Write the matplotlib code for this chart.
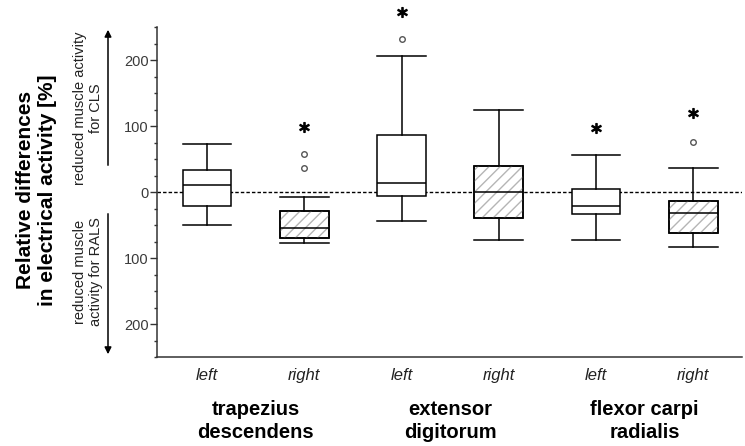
import matplotlib

matplotlib.use("Agg")
import matplotlib.pyplot as plt
from matplotlib.patches import PathPatch, FancyArrowPatch
from matplotlib.ticker import MultipleLocator, FixedLocator

plt.rcParams["font.family"] = ["Liberation Sans", "DejaVu Sans"]

# box statistics (relative difference, %)
sides = ["left", "right", "left", "right", "left", "right"]
muscles = ["trapezius\ndescendens", "extensor\ndigitorum", "flexor carpi\nradialis"]
whislo = [-50, -78, -44, -73, -73, -84]
q1 = [-21, -69, -6, -39, -33, -62]
med = [10, -55, 13, 0, -21, -32]
q3 = [33, -29, 86, 40, 4, -14]
whishi = [72, -7, 206, 124, 56, 36]
fliers = [[], [57, 36], [232], [], [], [76]]
star_y = [None, 99, 273, None, 97, 119]
hatched = [False, True, False, True, False, True]

W, H = 745, 446


def fx(px):
    return px / W


def fy(py):
    return 1 - py / H


fig = plt.figure(figsize=(W / 100, H / 100), dpi=100)
ax = fig.add_axes([fx(157), fy(357), fx(742) - fx(157), fy(27) - fy(357)])

positions = list(range(1, len(sides) + 1))
stats = [
    {"whislo": lo, "q1": a, "med": m, "q3": b, "whishi": hi, "fliers": fl}
    for lo, a, m, b, hi, fl in zip(whislo, q1, med, q3, whishi, fliers)
]
bp = ax.bxp(
    stats, positions=positions, widths=0.5, capwidths=0.5, patch_artist=True,
    showfliers=True,
    boxprops=dict(facecolor="white", edgecolor="black", lw=1.1),
    whiskerprops=dict(color="black", lw=1.1),
    capprops=dict(color="black", lw=1.1),
    medianprops=dict(color="black", lw=1.1, zorder=3),
    flierprops=dict(marker="o", ms=4, mfc="white", mec="#555555", mew=1.0),
)

for box, h in zip(bp["boxes"], hatched):
    if h:
        ax.add_patch(PathPatch(box.get_path(), facecolor="none", edgecolor="#b5b5b5",
                               hatch="///", lw=0, zorder=2.05))
        ax.add_patch(PathPatch(box.get_path(), facecolor="none", edgecolor="black",
                               lw=1.1, zorder=2.1))

for x, s in zip(positions, star_y):
    if s is not None:
        ax.plot(x, s, marker="$*$", ms=7, color="black", clip_on=False, zorder=4)

ax.axhline(0, color="black", lw=1.0, ls=(0, (2.5, 1.5)), zorder=1)

ax.set_xlim(0.486, 6.5)
ax.set_ylim(-250, 250)
ax.yaxis.set_major_locator(FixedLocator([-200, -100, 0, 100, 200]))
ax.set_yticklabels(["200", "100", "0", "100", "200"])
ax.yaxis.set_minor_locator(MultipleLocator(25))
ax.tick_params(axis="y", which="major", length=5, width=1, labelsize=10.5,
               labelcolor="#3a3a3a", color="#333333", pad=1)
ax.tick_params(axis="y", which="minor", length=2.5, width=1, color="#333333")
ax.set_xticks(positions)
ax.set_xticklabels(sides, fontstyle="italic", fontsize=12, color="#222222")
ax.tick_params(axis="x", length=0, pad=8)

for side in ("top", "right"):
    ax.spines[side].set_visible(False)
for side in ("left", "bottom"):
    ax.spines[side].set_color("#333333")
    ax.spines[side].set_linewidth(1.1)

# muscle group names under each pair
for i, name in enumerate(muscles):
    ax.text(positions[2 * i] + 0.5, -315, name, ha="center", va="top",
            fontsize=14.5, fontweight="bold", linespacing=1.25, clip_on=False)

# y-axis label and the direction hints
fig.text(fx(37), fy(190), "Relative differences\nin electrical activity [%]",
         rotation=90, ha="center", va="center", fontsize=15, fontweight="bold",
         linespacing=1.2)
fig.text(fx(88), fy(108), "reduced muscle activity\nfor CLS", rotation=90,
         ha="center", va="center", fontsize=10.5, color="#222222", linespacing=1.15)
fig.text(fx(88), fy(272), "reduced muscle\nactivity for RALS", rotation=90,
         ha="center", va="center", fontsize=10.5, color="#222222", linespacing=1.15)
fig.add_artist(FancyArrowPatch((fx(108), fy(168)), (fx(108), fy(27)),
                               transform=fig.transFigure, arrowstyle="-|>",
                               mutation_scale=10, lw=1.1, color="black"))
fig.add_artist(FancyArrowPatch((fx(108), fy(211)), (fx(108), fy(357)),
                               transform=fig.transFigure, arrowstyle="-|>",
                               mutation_scale=10, lw=1.1, color="black"))

fig.savefig("out.png", dpi=100)
